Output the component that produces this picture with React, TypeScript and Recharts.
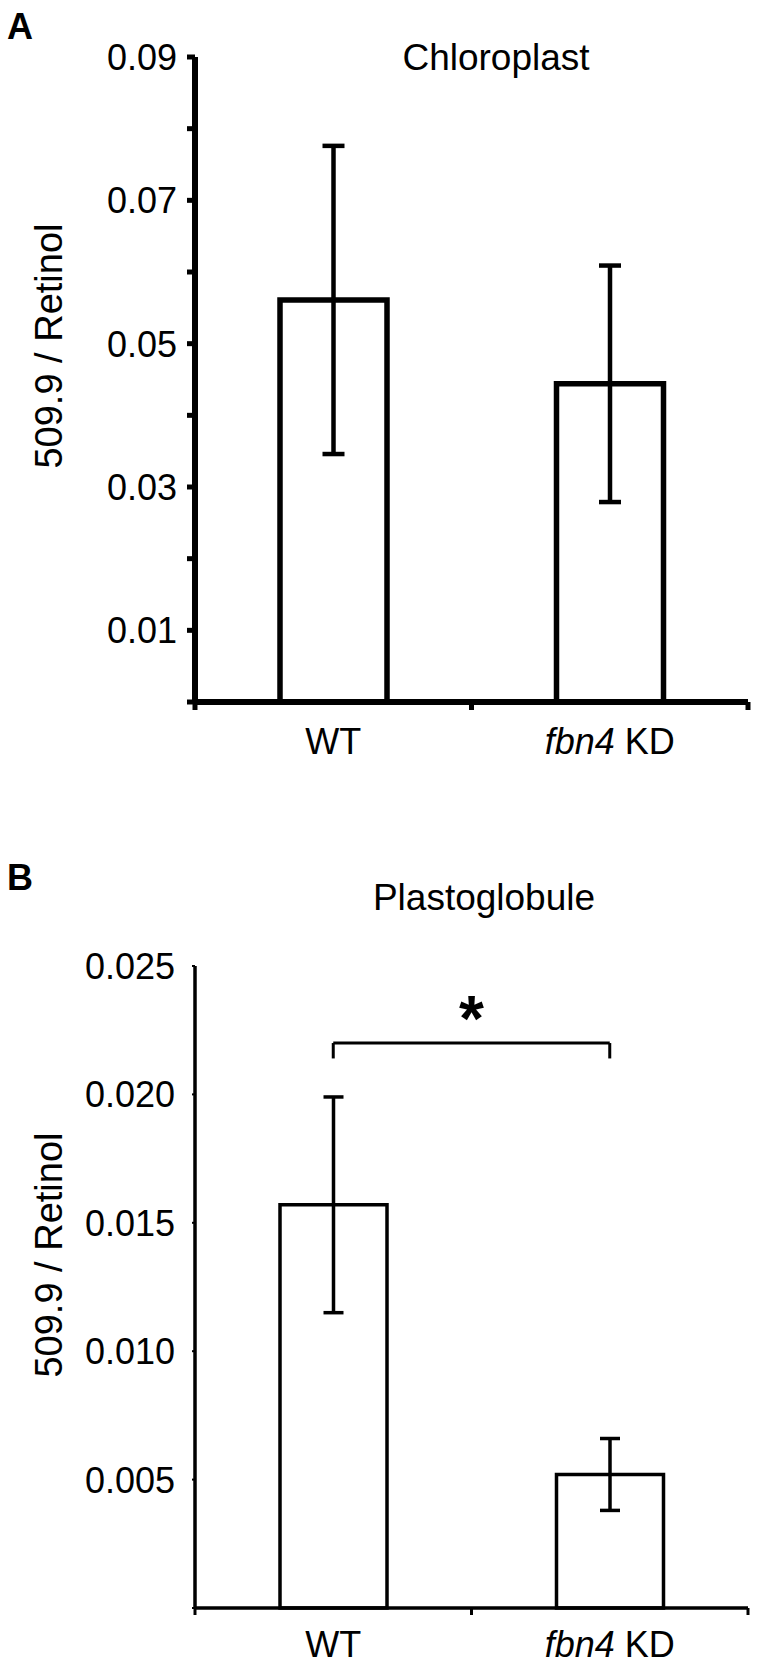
import React from 'react';
import { BarChart, Bar, XAxis, YAxis, ErrorBar, ReferenceLine } from 'recharts';

// ---------- data ----------
const categories = ['WT', 'fbn4 KD'];
const chloroplastValues = [0.0561, 0.0444];
const chloroplastErrors = [0.0215, 0.0165];
const plastoglobuleValues = [0.0157, 0.0052];
const plastoglobuleErrors = [0.0042, 0.0014];

const chloroplastTicks = [0, 0.01, 0.02, 0.03, 0.04, 0.05, 0.06, 0.07, 0.08, 0.09];
const chloroplastLabelTicks = [0.01, 0.03, 0.05, 0.07, 0.09];
const plastoglobuleTicks = [0, 0.005, 0.01, 0.015, 0.02, 0.025];
const plastoglobuleLabelTicks = [0.005, 0.01, 0.015, 0.02, 0.025];

// significance bracket between WT and fbn4 KD
const bracketLevel = 0.022;
const bracketDrop = 0.0214;

const chloroplastData = categories.map((name, i) => ({
  name,
  value: chloroplastValues[i],
  err: chloroplastErrors[i],
}));
const plastoglobuleData = categories.map((name, i) => ({
  name,
  value: plastoglobuleValues[i],
  err: plastoglobuleErrors[i],
}));

// ---------- styling ----------
const FONT = '"Liberation Sans", Arial, Helvetica, sans-serif';
const X_TICK_MARGIN = 0;

function CategoryLabel({ x, y, value }: { x: number; y: number; value: string }) {
  if (value === 'fbn4 KD') {
    return (
      <text x={x} y={y} textAnchor="middle" fontSize={36} fontFamily={FONT} fill="#000">
        <tspan fontStyle="italic">fbn4</tspan>
        <tspan> KD</tspan>
      </text>
    );
  }
  return (
    <text x={x} y={y} textAnchor="middle" fontSize={36} fontFamily={FONT} fill="#000">
      {value}
    </text>
  );
}

function makeXTick(tickLen: number, tickW: number, labelDrop: number) {
  return (props: any) => {
    const { x, y, payload, index, visibleTicksCount } = props;
    const axisY = y - X_TICK_MARGIN;
    const half = typeof payload?.offset === 'number' ? payload.offset : 0;
    const isLast = index === (visibleTicksCount ?? categories.length) - 1;
    return (
      <g>
        {half > 0 && (
          <line x1={x - half} x2={x - half} y1={axisY} y2={axisY + tickLen} stroke="#000" strokeWidth={tickW} />
        )}
        {half > 0 && isLast && (
          <line x1={x + half} x2={x + half} y1={axisY} y2={axisY + tickLen} stroke="#000" strokeWidth={tickW} />
        )}
        <CategoryLabel x={x} y={axisY + labelDrop} value={payload.value} />
      </g>
    );
  };
}

const ChloroYTick = (props: any) => {
  const { x, y, payload } = props;
  const show = chloroplastLabelTicks.some((t) => Math.abs(t - payload.value) < 1e-9);
  if (!show) return <g />;
  return (
    <text x={x} y={y} dy="0.36em" textAnchor="end" fontSize={36} fontFamily={FONT} fill="#000">
      {Number(payload.value).toFixed(2)}
    </text>
  );
};

const PlastoYTick = (props: any) => {
  const { x, y, payload } = props;
  const show = plastoglobuleLabelTicks.some((t) => Math.abs(t - payload.value) < 1e-9);
  if (!show) return <g />;
  return (
    <text x={x} y={y} dy="0.36em" textAnchor="end" fontSize={36} fontFamily={FONT} fill="#000">
      {Number(payload.value).toFixed(3)}
    </text>
  );
};

export default function App() {
  return (
    <div style={{ position: 'absolute', left: 0, top: 0, width: 764, height: 1672, background: '#fff' }}>
      {/* Panel A */}
      <div style={{ position: 'absolute', left: 0, top: 0 }}>
        <BarChart
          width={764}
          height={800}
          data={chloroplastData}
          margin={{ top: 57, right: 16, bottom: 38, left: 75 }}
          barSize={107}
        >
          <XAxis
            dataKey="name"
            type="category"
            height={60}
            axisLine={{ stroke: '#000', strokeWidth: 6 }}
            tickLine={false}
            tickSize={0}
            tickMargin={X_TICK_MARGIN}
            tick={makeXTick(8, 5, 52)}
            interval={0}
          />
          <YAxis
            type="number"
            domain={[0, 0.09]}
            ticks={chloroplastTicks}
            interval={0}
            width={120}
            axisLine={{ stroke: '#000', strokeWidth: 6 }}
            tickLine={{ stroke: '#000', strokeWidth: 5 }}
            tickSize={8}
            tickMargin={10}
            tick={ChloroYTick}
          />
          <Bar dataKey="value" fill="#fff" stroke="#000" strokeWidth={5.5} isAnimationActive={false}>
            <ErrorBar dataKey="err" width={11} stroke="#000" strokeWidth={4.5} direction="y" isAnimationActive={false} />
          </Bar>
        </BarChart>
      </div>

      {/* Panel B */}
      <div style={{ position: 'absolute', left: 0, top: 800 }}>
        <BarChart
          width={764}
          height={872}
          data={plastoglobuleData}
          margin={{ top: 166, right: 16, bottom: 4, left: 75 }}
          barSize={107}
        >
          <XAxis
            dataKey="name"
            type="category"
            height={60}
            axisLine={{ stroke: '#000', strokeWidth: 3.5 }}
            tickLine={false}
            tickSize={0}
            tickMargin={X_TICK_MARGIN}
            tick={makeXTick(7, 3, 49)}
            interval={0}
          />
          <YAxis
            type="number"
            domain={[0, 0.025]}
            ticks={plastoglobuleTicks}
            interval={0}
            width={120}
            axisLine={{ stroke: '#000', strokeWidth: 3.5 }}
            tickLine={{ stroke: '#000', strokeWidth: 2 }}
            tickSize={3}
            tickMargin={17}
            tick={PlastoYTick}
          />
          <Bar dataKey="value" fill="#fff" stroke="#000" strokeWidth={3.5} isAnimationActive={false}>
            <ErrorBar dataKey="err" width={10} stroke="#000" strokeWidth={3.5} direction="y" isAnimationActive={false} />
          </Bar>
          <ReferenceLine
            segment={[
              { x: categories[0], y: bracketLevel },
              { x: categories[1], y: bracketLevel },
            ]}
            stroke="#000"
            strokeWidth={3}
            label={{ value: '*', position: 'top', offset: 2, fontSize: 64, fontWeight: 'bold', fill: '#000', fontFamily: FONT }}
          />
          <ReferenceLine
            segment={[
              { x: categories[0], y: bracketLevel },
              { x: categories[0], y: bracketDrop },
            ]}
            stroke="#000"
            strokeWidth={3}
          />
          <ReferenceLine
            segment={[
              { x: categories[1], y: bracketLevel },
              { x: categories[1], y: bracketDrop },
            ]}
            stroke="#000"
            strokeWidth={3}
          />
        </BarChart>
      </div>

      {/* Text overlay: panel letters, titles, y-axis titles */}
      <svg
        width={764}
        height={1672}
        style={{ position: 'absolute', left: 0, top: 0, pointerEvents: 'none' }}
      >
        <text x={7} y={39} fontSize={36} fontWeight="bold" fontFamily={FONT} fill="#000">A</text>
        <text x={496} y={70} textAnchor="middle" fontSize={37} fontFamily={FONT} fill="#000">Chloroplast</text>
        <text
          x={62}
          y={346}
          textAnchor="middle"
          fontSize={38}
          fontFamily={FONT}
          fill="#000"
          transform="rotate(-90, 62, 346)"
        >
          509.9 / Retinol
        </text>

        <text x={7} y={890} fontSize={36} fontWeight="bold" fontFamily={FONT} fill="#000">B</text>
        <text x={484} y={910} textAnchor="middle" fontSize={37} fontFamily={FONT} fill="#000">Plastoglobule</text>
        <text
          x={62}
          y={1255}
          textAnchor="middle"
          fontSize={38}
          fontFamily={FONT}
          fill="#000"
          transform="rotate(-90, 62, 1255)"
        >
          509.9 / Retinol
        </text>
      </svg>
    </div>
  );
}
